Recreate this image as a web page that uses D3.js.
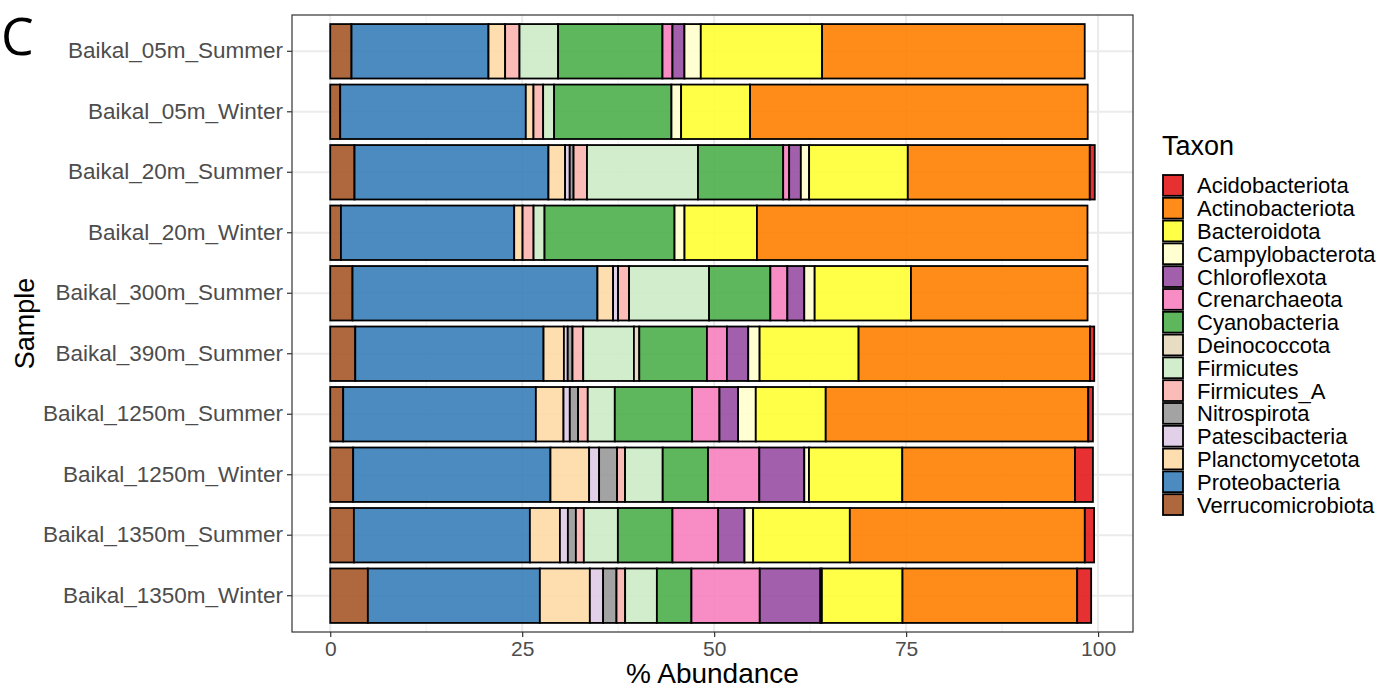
<!DOCTYPE html>
<html>
<head>
<meta charset="utf-8">
<script src="https://cdn.jsdelivr.net/npm/d3@7"></script>
<style>
  body { margin: 0; background: #fff; }
  svg { display: block; font-family: "Liberation Sans", Arial, sans-serif; }
</style>
</head>
<body>
<div id="chart"></div>
<script>
// samples, top to bottom
const samples = [
  "Baikal_05m_Summer", "Baikal_05m_Winter", "Baikal_20m_Summer", "Baikal_20m_Winter",
  "Baikal_300m_Summer", "Baikal_390m_Summer", "Baikal_1250m_Summer", "Baikal_1250m_Winter",
  "Baikal_1350m_Summer", "Baikal_1350m_Winter"
];

// legend order
const taxa = [
  "Acidobacteriota", "Actinobacteriota", "Bacteroidota", "Campylobacterota", "Chloroflexota",
  "Crenarchaeota", "Cyanobacteria", "Deinococcota", "Firmicutes", "Firmicutes_A",
  "Nitrospirota", "Patescibacteria", "Planctomycetota", "Proteobacteria", "Verrucomicrobiota"
];

const colors = [
  "#E41A1C", "#FF7F00", "#FFFF33", "#FFFFCC", "#984EA3",
  "#F781BF", "#4DAF4A", "#E5D8BD", "#CCEBC5", "#FBB4AE",
  "#999999", "#DECBE4", "#FED9A6", "#377EB8", "#A65628"
];

// % abundance per taxon, one value per sample (same order as samples)
const Acidobacteriota   = [0, 0, 0.65, 0, 0, 0.56, 0.61, 2.34, 1.21, 1.82];
const Actinobacteriota  = [34.2, 43.97, 23.7, 43.05, 23.0, 30.13, 34.19, 22.49, 30.6, 22.75];
const Bacteroidota      = [15.8, 8.98, 12.85, 9.43, 12.54, 12.89, 9.11, 12.15, 12.59, 10.5];
const Campylobacterota  = [2.13, 1.26, 1.08, 1.3, 1.35, 1.48, 2.3, 0.61, 1.13, 0.2];
const Chloroflexota     = [1.56, 0, 1.52, 0, 2.21, 2.78, 2.43, 5.86, 3.43, 7.89];
const Crenarchaeota     = [1.3, 0, 0.78, 0, 2.21, 2.6, 3.56, 6.68, 5.95, 8.9];
const Cyanobacteria     = [13.59, 15.28, 11.1, 16.93, 7.98, 8.81, 10.07, 5.9, 7.11, 4.5];
const Deinococcota      = [0, 0, 0, 0, 0, 0.7, 0, 0, 0, 0];
const Firmicutes        = [5.03, 1.43, 14.45, 1.43, 10.42, 6.6, 3.52, 4.9, 4.43, 4.13];
const Firmicutes_A      = [1.87, 1.26, 1.75, 1.43, 1.43, 1.4, 1.26, 1.04, 1.04, 1.13];
const Nitrospirota      = [0, 0, 0.5, 0, 0, 0.62, 1.08, 2.34, 1.04, 1.74];
const Patescibacteria   = [0, 0, 0.6, 0, 0.65, 0.5, 0.82, 1.3, 1.04, 1.73];
const Planctomycetota   = [2.17, 1.0, 2.17, 1.09, 2.04, 2.65, 3.6, 5.04, 3.91, 6.51];
const Proteobacteria    = [17.84, 24.17, 25.26, 22.57, 31.9, 24.52, 25.09, 25.69, 22.92, 22.4];
const Verrucomicrobiota = [2.77, 1.3, 3.16, 1.39, 2.9, 3.26, 1.69, 2.99, 3.08, 4.9];

const values = {
  Acidobacteriota, Actinobacteriota, Bacteroidota, Campylobacterota, Chloroflexota,
  Crenarchaeota, Cyanobacteria, Deinococcota, Firmicutes, Firmicutes_A,
  Nitrospirota, Patescibacteria, Planctomycetota, Proteobacteria, Verrucomicrobiota
};

const xTicks = [0, 25, 50, 75, 100];
const xMinor = [12.5, 37.5, 62.5, 87.5];

const width = 1382, height = 690;
const panel = {left: 292, right: 1133, top: 15, bottom: 632};

const svg = d3.select("#chart").append("svg")
  .attr("width", width)
  .attr("height", height);

// table rows for d3.stack
const table = samples.map((s, i) => {
  const row = {sample: s};
  taxa.forEach(t => row[t] = values[t][i]);
  return row;
});

// ggplot stacks the last factor level first (leftmost)
const stackKeys = taxa.slice().reverse();
const stacked = d3.stack().keys(stackKeys)(table);

const maxTotal = d3.max(table, r => d3.sum(taxa, t => r[t]));
const pad = maxTotal * 0.05;

const x = d3.scaleLinear()
  .domain([-pad, maxTotal + pad])
  .range([panel.left, panel.right]);

const y = d3.scaleBand()
  .domain(samples)
  .range([panel.top, panel.bottom])
  .paddingInner(0.1)
  .paddingOuter(0.15);

const color = d3.scaleOrdinal().domain(taxa).range(colors);

// grid
const grid = svg.append("g");
grid.selectAll("line.minor")
  .data(xMinor)
  .enter().append("line")
  .attr("x1", d => x(d)).attr("x2", d => x(d))
  .attr("y1", panel.top).attr("y2", panel.bottom)
  .attr("stroke", "#F2F2F2").attr("stroke-width", 1);
grid.selectAll("line.vmajor")
  .data(xTicks)
  .enter().append("line")
  .attr("x1", d => x(d)).attr("x2", d => x(d))
  .attr("y1", panel.top).attr("y2", panel.bottom)
  .attr("stroke", "#EBEBEB").attr("stroke-width", 2);
grid.selectAll("line.hmajor")
  .data(samples)
  .enter().append("line")
  .attr("x1", panel.left).attr("x2", panel.right)
  .attr("y1", d => y(d) + y.bandwidth() / 2)
  .attr("y2", d => y(d) + y.bandwidth() / 2)
  .attr("stroke", "#EBEBEB").attr("stroke-width", 2);

// bars
svg.append("g")
  .selectAll("g")
  .data(stacked)
  .enter().append("g")
  .attr("fill", d => color(d.key))
  .attr("fill-opacity", 0.9)
  .selectAll("rect")
  .data(d => d.filter(p => p[1] - p[0] > 0))
  .enter().append("rect")
  .attr("x", d => x(d[0]))
  .attr("y", d => y(d.data.sample))
  .attr("width", d => x(d[1]) - x(d[0]))
  .attr("height", y.bandwidth())
  .attr("stroke", "#000")
  .attr("stroke-width", 1.8);

// panel border
svg.append("rect")
  .attr("x", panel.left).attr("y", panel.top)
  .attr("width", panel.right - panel.left)
  .attr("height", panel.bottom - panel.top)
  .attr("fill", "none")
  .attr("stroke", "#333333")
  .attr("stroke-width", 1.2);

// x axis
const xAxis = svg.append("g")
  .attr("transform", "translate(0," + panel.bottom + ")")
  .call(d3.axisBottom(x).tickValues(xTicks).tickSize(5).tickPadding(4));
xAxis.select(".domain").remove();
xAxis.selectAll(".tick line").attr("stroke", "#333333").attr("stroke-width", 1.2);
xAxis.selectAll(".tick text")
  .attr("fill", "#4D4D4D")
  .style("font-size", "21px");

// y axis
const yAxis = svg.append("g")
  .attr("transform", "translate(" + panel.left + ",0)")
  .call(d3.axisLeft(y).tickSize(5).tickPadding(4));
yAxis.select(".domain").remove();
yAxis.selectAll(".tick line").attr("stroke", "#333333").attr("stroke-width", 1.2);
yAxis.selectAll(".tick text")
  .attr("fill", "#4D4D4D")
  .style("font-size", "22.5px");

// axis titles
svg.append("text")
  .attr("x", (panel.left + panel.right) / 2)
  .attr("y", 683)
  .attr("text-anchor", "middle")
  .style("font-size", "28px")
  .text("% Abundance");

svg.append("text")
  .attr("transform", "translate(34," + ((panel.top + panel.bottom) / 2) + ") rotate(-90)")
  .attr("text-anchor", "middle")
  .style("font-size", "27px")
  .text("Sample");

// panel tag
svg.append("text")
  .attr("x", 1)
  .attr("y", 55)
  .style("font-family", "'Open Sans', sans-serif")
  .style("font-size", "52px")
  .text("C");

// legend
const legend = svg.append("g").attr("transform", "translate(1162,0)");
legend.append("text")
  .attr("x", 0)
  .attr("y", 155)
  .style("font-size", "27px")
  .text("Taxon");

const keyStep = 22.8, keyTop = 174;
const items = legend.selectAll("g.item")
  .data(taxa)
  .enter().append("g")
  .attr("transform", (d, i) => "translate(0," + (keyTop + i * keyStep) + ")");
items.append("rect")
  .attr("x", 1).attr("y", 1)
  .attr("width", 20).attr("height", keyStep - 2)
  .attr("fill", d => color(d))
  .attr("fill-opacity", 0.9)
  .attr("stroke", "#000")
  .attr("stroke-width", 1.8);
items.append("text")
  .attr("x", 35)
  .attr("y", keyStep / 2)
  .attr("dy", "0.36em")
  .style("font-size", "22px")
  .text(d => d);
</script>
</body>
</html>
